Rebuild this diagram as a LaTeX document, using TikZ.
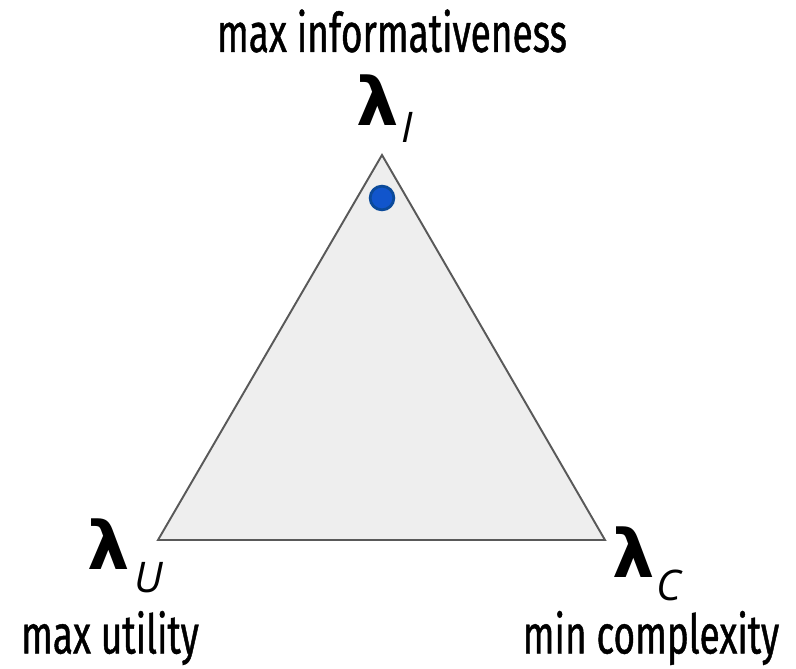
\documentclass[tikz,border=0pt]{standalone}
\usepackage{fontspec}
\setmainfont{Fira Sans}[FakeStretch=0.68, FakeBold=0.8]
\newfontfamily\lamfont{DejaVu Sans}
\newfontfamily\subfont{Open Sans}
\usepackage{xcolor}
\usetikzlibrary{positioning}

\definecolor{trifill}{HTML}{EEEEEE}
\definecolor{triline}{HTML}{595959}
\definecolor{dotfill}{HTML}{1155CC}
\definecolor{dotline}{HTML}{0B4A9A}

\begin{document}
\begin{tikzpicture}[
  x=0.02cm, y=-0.02cm,
  every node/.style={inner sep=0pt},
  tri/.style={draw=triline, fill=trifill, line width=1.1pt, line join=miter},
  caption/.style={font=\fontsize{31}{33}\selectfont},
  lam/.style={font=\lamfont\bfseries\fontsize{38}{40}\selectfont},
  sub/.style={font=\subfont\itshape\fontsize{24}{25}\selectfont, text depth=0pt},
  pt/.style={circle, draw=dotline, fill=dotfill, line width=1.6pt, minimum size=13.5pt}
]
\useasboundingbox (0,0) rectangle (796,669);

% --- corners ---
\coordinate (cI) at (382,155);
\coordinate (cU) at (158,540);
\coordinate (cC) at (605,540);
\filldraw[tri] (cI) -- (cU) -- (cC) -- cycle;

% --- current weighting ---
\node[pt] (dot) at (382,198) {};

% --- vertex labels ---
\node[lam] (lI) at (378,100) {λ};
\node[sub] (sI) at (407,127) {I};
\node[lam] (lU) at (109,544) {λ};
\node[sub] (sU) at (149,577) {U};
\node[lam] (lC) at (634,552) {λ};
\node[sub] (sC) at (669,585) {C};

% --- objectives ---
\node[caption] (tI) at (392,31) {max informativeness};
\node[caption] (tU) at (110,638) {max utility};
\node[caption] (tC) at (651,638) {min complexity};

\end{tikzpicture}
\end{document}
